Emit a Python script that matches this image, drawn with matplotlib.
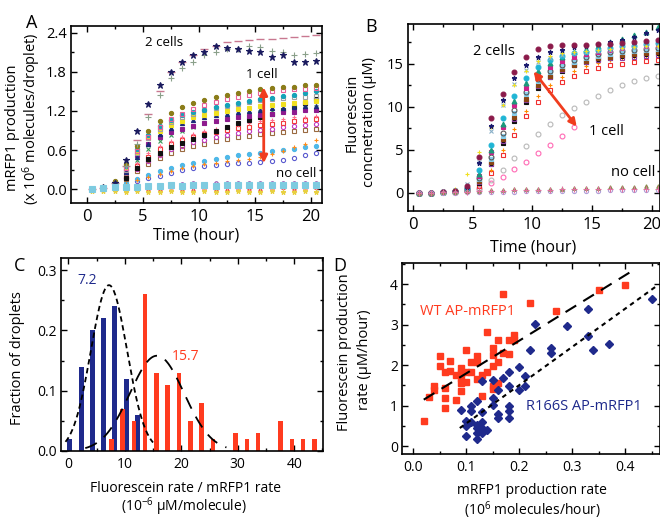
import numpy as np
import matplotlib.pyplot as plt
from matplotlib.ticker import MultipleLocator

plt.rcParams['font.family'] = ['Open Sans', 'DejaVu Sans']
plt.rcParams['mathtext.fontset'] = 'custom'
plt.rcParams['mathtext.rm'] = 'Open Sans'
plt.rcParams['mathtext.it'] = 'Open Sans:italic'
plt.rcParams['axes.linewidth'] = 1.2

# ---- time points (hour) for panels A and B
hours = [0.5, 1.5, 2.5, 3.5, 4.5, 5.5, 6.5, 7.5, 8.5, 9.5, 10.5,
         11.5, 12.5, 13.5, 14.5, 15.5, 16.5, 17.5, 18.5, 19.5, 20.5]

# ---- panel A: mRFP1 production (x10^6 molecules/droplet)
a_two_star = [0.00, 0.03, 0.10, 0.45, 0.90, 1.30, 1.60, 1.80, 1.95, 2.05, 2.10,
              2.20, 2.17, 2.15, 2.12, 2.10, 2.02, 2.05, 1.95, 1.95, 1.97]
a_two_plus = [0.00, 0.02, 0.10, 0.35, 0.70, 1.10, 1.45, 1.70, 1.85, 1.95, 2.05,
              2.10, 2.15, 2.15, 2.20, 2.18, 2.12, 2.10, 2.05, 2.07, 2.08]
a_two_dash = [0.00, 0.02, 0.10, 0.35, 0.75, 1.15, 1.50, 1.80, 1.95, 2.05, 2.15,
              2.20, 2.25, 2.27, 2.28, 2.30, 2.30, 2.32, 2.33, 2.35, 2.36]
a_olive = [0.00, 0.03, 0.12, 0.38, 0.66, 0.90, 1.05, 1.17, 1.26, 1.32, 1.37,
           1.41, 1.45, 1.48, 1.50, 1.53, 1.55, 1.56, 1.57, 1.59, 1.60]
a_pink = [0.00, 0.02, 0.10, 0.33, 0.58, 0.80, 0.95, 1.07, 1.16, 1.23, 1.29,
          1.34, 1.38, 1.42, 1.45, 1.48, 1.50, 1.52, 1.53, 1.54, 1.55]
a_teal = [0.00, 0.03, 0.11, 0.36, 0.62, 0.83, 0.97, 1.06, 1.13, 1.18, 1.22,
          1.26, 1.29, 1.32, 1.35, 1.38, 1.40, 1.43, 1.45, 1.47, 1.50]
a_gray = [0.00, 0.02, 0.09, 0.30, 0.55, 0.78, 0.93, 1.03, 1.10, 1.16, 1.21,
          1.25, 1.28, 1.31, 1.33, 1.36, 1.38, 1.40, 1.41, 1.42, 1.43]
a_yellow = [0.00, 0.03, 0.10, 0.32, 0.57, 0.78, 0.90, 0.98, 1.05, 1.10, 1.14,
            1.17, 1.20, 1.23, 1.25, 1.27, 1.29, 1.30, 1.32, 1.33, 1.35]
a_navy = [0.00, 0.02, 0.08, 0.27, 0.50, 0.70, 0.84, 0.94, 1.01, 1.06, 1.10,
          1.13, 1.16, 1.18, 1.20, 1.22, 1.24, 1.25, 1.26, 1.27, 1.28]
a_purple = [0.00, 0.02, 0.09, 0.28, 0.52, 0.70, 0.80, 0.87, 0.92, 0.97, 1.01,
            1.04, 1.07, 1.10, 1.12, 1.14, 1.16, 1.18, 1.19, 1.21, 1.22]
a_green = [0.00, 0.02, 0.08, 0.25, 0.45, 0.62, 0.74, 0.83, 0.90, 0.96, 1.01,
           1.05, 1.09, 1.12, 1.15, 1.18, 1.20, 1.22, 1.24, 1.25, 1.26]
a_black = [0.00, 0.01, 0.06, 0.18, 0.33, 0.46, 0.56, 0.64, 0.71, 0.77, 0.83,
           0.89, 0.95, 1.01, 1.06, 1.11, 1.16, 1.21, 1.26, 1.32, 1.38]
a_pinkplus = [0.00, 0.02, 0.07, 0.22, 0.40, 0.55, 0.66, 0.74, 0.80, 0.85, 0.89,
              0.93, 0.96, 0.99, 1.02, 1.04, 1.06, 1.08, 1.10, 1.11, 1.12]
a_red = [0.00, 0.02, 0.07, 0.20, 0.36, 0.50, 0.61, 0.69, 0.75, 0.80, 0.84,
         0.88, 0.91, 0.94, 0.96, 0.98, 1.00, 1.02, 1.04, 1.06, 1.08]
a_magenta = [0.00, 0.02, 0.06, 0.17, 0.31, 0.43, 0.53, 0.61, 0.67, 0.72, 0.76,
             0.80, 0.83, 0.86, 0.89, 0.91, 0.93, 0.95, 0.97, 0.99, 1.00]
a_brown = [0.00, 0.01, 0.05, 0.15, 0.28, 0.39, 0.48, 0.55, 0.61, 0.66, 0.70,
           0.74, 0.77, 0.80, 0.82, 0.84, 0.86, 0.88, 0.89, 0.91, 0.92]
a_orange = [0.00, 0.01, 0.03, 0.08, 0.14, 0.19, 0.24, 0.28, 0.32, 0.35, 0.38,
            0.41, 0.43, 0.45, 0.47, 0.50, 0.54, 0.59, 0.64, 0.70, 0.75]
a_skyblue = [0.00, 0.01, 0.03, 0.09, 0.16, 0.22, 0.28, 0.33, 0.37, 0.41, 0.44,
             0.47, 0.50, 0.52, 0.54, 0.56, 0.58, 0.60, 0.62, 0.64, 0.66]
a_blue = [0.00, 0.01, 0.03, 0.07, 0.12, 0.17, 0.21, 0.25, 0.29, 0.32, 0.35,
          0.37, 0.39, 0.40, 0.41, 0.42, 0.43, 0.45, 0.48, 0.52, 0.56]
a_none_cyan = [0.00, 0.02, 0.03, 0.04, 0.04, 0.05, 0.05, 0.06, 0.05, 0.06, 0.06,
               0.05, 0.06, 0.07, 0.06, 0.06, 0.07, 0.06, 0.07, 0.07, 0.07]
a_none_yellow = [-0.02, -0.03, -0.03, -0.04, -0.03, -0.04, -0.04, -0.03, -0.04, -0.04, -0.03,
                 -0.04, -0.04, -0.03, -0.04, -0.04, -0.03, -0.04, -0.04, -0.03, -0.04]
a_none_pink = [0.00, 0.00, 0.01, 0.00, 0.01, 0.01, 0.00, 0.01, 0.01, 0.02, 0.01,
               0.01, 0.02, 0.01, 0.02, 0.02, 0.01, 0.02, 0.02, 0.01, 0.02]
a_none_purple = [0.01, 0.02, 0.04, 0.05, 0.06, 0.06, 0.07, 0.08, 0.08, 0.09, 0.08,
                 0.09, 0.09, 0.10, 0.09, 0.10, 0.10, 0.09, 0.10, 0.10, 0.10]
a_none_red = [-0.01, 0.00, 0.00, 0.01, 0.00, 0.01, 0.01, 0.00, 0.01, 0.01, 0.02,
              0.01, 0.01, 0.02, 0.02, 0.01, 0.02, 0.03, 0.02, 0.03, 0.03]

# ---- panel B: fluorescein concentration (uM)
b_maroon = [0.0, 0.0, 0.1, 0.2, 0.8, 4.2, 8.7, 11.5, 14.0, 15.8, 16.7,
            17.0, 17.2, 17.2, 17.2, 17.3, 17.3, 17.4, 17.5, 17.6, 17.7]
b_navy = [0.0, 0.0, 0.1, 0.2, 0.6, 3.5, 7.8, 10.8, 13.3, 14.9, 15.8,
          16.3, 16.6, 16.9, 17.1, 17.3, 17.5, 17.8, 18.1, 18.5, 18.9]
b_yellow = [0.0, 0.0, 0.1, 0.5, 2.2, 4.8, 7.6, 10.2, 12.5, 14.2, 15.3,
            15.9, 16.2, 16.4, 16.5, 16.6, 16.7, 16.8, 16.9, 17.0, 17.1]
b_grayx = [0.0, 0.0, 0.1, 0.3, 1.0, 3.6, 7.2, 10.2, 12.6, 14.3, 15.2,
           15.7, 16.0, 16.2, 16.4, 16.5, 16.6, 16.8, 16.9, 17.0, 17.1]
b_cyan = [0.0, 0.0, 0.1, 0.2, 0.6, 2.6, 5.6, 8.7, 11.3, 13.3, 14.6,
          15.4, 15.9, 16.2, 16.4, 16.6, 16.8, 17.0, 17.1, 17.3, 17.4]
b_teal = [0.0, 0.0, 0.1, 0.2, 0.5, 2.2, 5.0, 8.0, 10.7, 12.8, 14.2,
          15.1, 15.8, 16.3, 16.7, 17.1, 17.5, 17.9, 18.3, 18.7, 19.2]
b_magenta = [0.0, 0.0, 0.1, 0.2, 0.5, 2.0, 4.7, 7.6, 10.2, 12.2, 13.6,
             14.6, 15.3, 15.8, 16.1, 16.4, 16.6, 16.8, 17.0, 17.1, 17.2]
b_white = [0.0, 0.0, 0.1, 0.2, 0.4, 1.7, 4.2, 7.0, 9.6, 11.7, 13.2,
           14.2, 14.9, 15.4, 15.8, 16.1, 16.3, 16.5, 16.6, 16.7, 16.8]
b_skyblue = [0.0, 0.0, 0.1, 0.2, 0.4, 1.6, 3.9, 6.6, 9.3, 11.5, 13.0,
             14.0, 14.7, 15.2, 15.6, 15.9, 16.1, 16.3, 16.5, 16.6, 16.7]
b_brown = [0.0, 0.0, 0.1, 0.1, 0.3, 1.4, 3.6, 6.2, 8.8, 10.9, 12.5,
           13.6, 14.4, 14.9, 15.3, 15.6, 15.8, 16.0, 16.1, 16.2, 16.3]
b_purple = [0.0, 0.0, 0.1, 0.1, 0.3, 1.3, 3.4, 6.0, 8.6, 10.8, 12.4,
            13.5, 14.3, 14.8, 15.2, 15.4, 15.6, 15.7, 15.8, 15.9, 16.0]
b_black = [0.0, 0.0, 0.1, 0.1, 0.3, 1.2, 3.3, 5.8, 8.3, 10.5, 12.2,
           13.4, 14.2, 14.8, 15.2, 15.5, 15.7, 15.9, 16.0, 16.1, 16.2]
b_orange = [0.0, 0.0, 0.1, 0.1, 0.3, 1.0, 2.7, 5.0, 7.4, 9.5, 11.2,
            12.5, 13.5, 14.2, 14.7, 15.1, 15.4, 15.6, 15.8, 15.9, 16.0]
b_red = [0.0, 0.0, 0.1, 0.1, 0.2, 0.8, 2.3, 4.4, 6.7, 8.9, 10.6,
         11.9, 12.9, 13.6, 14.1, 14.5, 14.8, 15.0, 15.2, 15.3, 15.4]
b_gray = [0.0, 0.0, 0.1, 0.1, 0.2, 0.6, 1.5, 2.6, 4.0, 5.4, 6.8,
          8.0, 9.0, 9.9, 10.6, 11.3, 11.9, 12.5, 13.0, 13.3, 13.6]
b_pink = [0.0, 0.0, 0.1, 0.1, 0.2, 0.5, 1.1, 1.9, 2.8, 3.6, 4.6,
          5.6, 6.6, 7.6, np.nan, np.nan, np.nan, np.nan, np.nan, np.nan, np.nan]
b_none_pink = [0.0, 0.0, 0.1, 0.1, 0.1, 0.2, 0.2, 0.2, 0.3, 0.3, 0.3,
               0.3, 0.4, 0.4, 0.4, 0.4, 0.4, 0.5, 0.5, 0.5, 0.5]
b_none_olive = [0.0, 0.0, 0.1, 0.1, 0.2, 0.2, 0.3, 0.3, 0.4, 0.4, 0.5,
                0.5, 0.5, 0.6, 0.6, 0.6, 0.7, 0.7, 0.7, 0.8, 0.8]
b_none_lav = [0.0, 0.0, 0.0, 0.0, 0.1, 0.1, 0.1, 0.1, 0.1, 0.2, 0.2,
              0.2, 0.2, 0.2, 0.2, 0.2, 0.3, 0.3, 0.3, 0.3, 0.3]

# ---- panel C: histogram of rate ratios (10^-6 uM/molecule)
r166s_bins = [0.25, 2.25, 4.25, 6.25, 8.25, 10.25, 12.25]
r166s_frac = [0.02, 0.14, 0.20, 0.22, 0.24, 0.12, 0.06]
wt_bins = [7.6, 9.6, 11.6, 13.6, 15.6, 17.6, 19.6, 21.6, 23.6, 25.6,
           27.6, 29.6, 31.6, 33.6, 35.6, 37.6, 39.6, 41.6, 43.6]
wt_frac = [0.02, 0.07, 0.05, 0.26, 0.13, 0.11, 0.13, 0.05, 0.08, 0.02,
           0.0, 0.03, 0.02, 0.03, 0.0, 0.05, 0.02, 0.02, 0.02]
# gaussian fits: amplitude, mean, sigma
r166s_fit = (0.275, 7.2, 3.2)
wt_fit = (0.158, 15.7, 4.8)

# ---- panel D: production rates
wt_x = [0.02, 0.03, 0.04, 0.04, 0.05, 0.05, 0.06, 0.06, 0.06, 0.06, 0.07, 0.07,
        0.08, 0.08, 0.09, 0.09, 0.09, 0.09, 0.09, 0.10, 0.10, 0.10, 0.11, 0.11,
        0.12, 0.12, 0.12, 0.13, 0.13, 0.14, 0.14, 0.15, 0.15, 0.15, 0.15, 0.15,
        0.16, 0.16, 0.16, 0.17, 0.17, 0.18, 0.18, 0.19, 0.19, 0.22, 0.27, 0.35, 0.40]
wt_y = [0.62, 1.21, 1.49, 1.40, 2.22, 1.97, 1.83, 1.44, 1.19, 0.94, 2.11, 1.85,
        1.77, 1.13, 1.93, 1.81, 1.68, 1.56, 1.36, 2.37, 1.82, 1.58, 2.09, 1.82,
        2.22, 2.07, 1.66, 1.77, 1.25, 2.83, 1.82, 2.42, 2.26, 1.97, 1.49, 1.41,
        2.63, 2.07, 1.56, 3.76, 2.30, 2.63, 2.28, 2.75, 2.63, 3.53, 3.34, 3.86, 3.97]
mut_x = [0.09, 0.10, 0.10, 0.10, 0.11, 0.11, 0.11, 0.12, 0.12, 0.12, 0.12, 0.12,
         0.13, 0.13, 0.13, 0.13, 0.13, 0.14, 0.15, 0.15, 0.15, 0.16, 0.16, 0.16,
         0.17, 0.18, 0.18, 0.18, 0.18, 0.18, 0.20, 0.20, 0.21, 0.21, 0.22, 0.23,
         0.26, 0.26, 0.29, 0.33, 0.33, 0.34, 0.37, 0.45]
mut_y = [0.90, 0.25, 0.63, 0.51, 1.00, 0.86, 0.59, 1.11, 0.53, 0.45, 0.34, 0.19,
         1.60, 0.84, 0.59, 0.45, 0.34, 0.41, 1.64, 1.19, 1.03, 1.38, 0.80, 0.70,
         1.68, 1.82, 1.48, 1.00, 0.86, 0.70, 1.95, 1.40, 1.74, 1.49, 2.38, 3.02,
         2.42, 2.30, 2.97, 3.39, 2.73, 2.37, 2.53, 3.64]
wt_line_x = [0.02, 0.41]
wt_line_y = [1.15, 4.30]
mut_line_x = [0.088, 0.462]
mut_line_y = [0.45, 3.98]

RED = '#ff3b1f'
NAVY = '#1f2a8c'
W, H = 660, 520

fig = plt.figure(figsize=(6.6, 5.2), dpi=100)


def box(l, t, r, b):
    return [l / W, 1 - b / H, (r - l) / W, (b - t) / H]


def ftext(x, y, s, **kw):
    fig.text(x / W, 1 - y / H, s, ha='center', va='center', **kw)


def style(ax, xmaj, xmin, ymaj, ymin, xsize=10, ysize=10):
    ax.xaxis.set_major_locator(MultipleLocator(xmaj))
    ax.xaxis.set_minor_locator(MultipleLocator(xmin))
    ax.yaxis.set_major_locator(MultipleLocator(ymaj))
    ax.yaxis.set_minor_locator(MultipleLocator(ymin))
    ax.tick_params(which='both', direction='in', top=True, right=True, width=1)
    ax.tick_params(which='major', length=4)
    ax.tick_params(which='minor', length=2.5)
    ax.tick_params(axis='x', labelsize=xsize, pad=4)
    ax.tick_params(axis='y', labelsize=ysize, pad=3)


def trace(ax, y, color, marker, filled=True, ms=3.0, mew=0.8):
    ax.plot(hours, y, ls='none', marker=marker, ms=ms,
            mfc=color if filled else 'none', mec=color, mew=mew)


# ================= A
axA = fig.add_axes(box(71, 26, 322, 203))
for y, c, m, f in [
    (a_blue, '#5a5acf', 'o', False), (a_skyblue, '#4fb8e8', 'o', True),
    (a_orange, '#ff8c1a', '+', True), (a_brown, '#9a6a40', 's', False),
    (a_magenta, '#c03ac0', 'o', False), (a_red, '#f03a3a', 's', False),
    (a_pinkplus, '#ff7090', '+', True), (a_black, '#111111', 's', True),
    (a_green, '#3a9a5a', 'x', True), (a_purple, '#8e1b8e', 's', True),
    (a_navy, '#1a2a7a', '^', True), (a_yellow, '#f0e020', 's', True),
    (a_gray, '#a0a0a0', 's', False), (a_teal, '#17a2b8', 'o', True),
    (a_pink, '#e8609a', 's', False), (a_olive, '#8b7d1a', 'o', True),
]:
    trace(axA, y, c, m, f)
trace(axA, a_two_dash, '#c87890', '_', True, ms=6, mew=1.0)
trace(axA, a_two_plus, '#8aa08a', '+', True, ms=4.5)
trace(axA, a_two_star, '#1a1a5e', '*', True, ms=5)
trace(axA, a_none_purple, '#9050b0', 'o', False, ms=2.5)
trace(axA, a_none_red, '#f04040', '^', True, ms=2.5)
trace(axA, a_none_pink, '#ff90b0', '+', True, ms=3)
trace(axA, a_none_yellow, '#e8d040', '*', True, ms=3.5)
trace(axA, a_none_cyan, '#7ecbe0', 's', True, ms=4)
axA.annotate('', xy=(15.8, 0.40), xytext=(15.8, 1.56),
             arrowprops=dict(arrowstyle='<|-|>', color='#f03c1e', lw=2,
                             mutation_scale=11, shrinkA=0, shrinkB=0))
axA.text(6.9, 2.24, '2 cells', ha='center', va='center', fontsize=9.5)
axA.text(15.6, 1.75, '1 cell', ha='center', va='center', fontsize=9.5)
axA.text(18.7, 0.245, 'no cell', ha='center', va='center', fontsize=9.5)
axA.set_xlim(-1.4, 21.0)
axA.set_ylim(-0.21, 2.5)
style(axA, 5, 2.5, 0.6, 0.3, xsize=12, ysize=10.5)
axA.yaxis.set_major_formatter(plt.FormatStrFormatter('%.1f'))

# ================= B
axB = fig.add_axes(box(408, 24, 660, 211))
for y, c, m, f in [
    (b_pink, '#ff69b4', 'o', False), (b_gray, '#b8b8b8', 'o', False),
    (b_red, '#f03030', 's', False), (b_orange, '#ff8c00', '+', True),
    (b_black, '#111111', 's', True), (b_purple, '#9040a0', 's', False),
    (b_brown, '#8b4513', 's', True), (b_skyblue, '#87ceeb', 's', True),
    (b_white, '#555555', 'o', False), (b_magenta, '#d0208a', 's', True),
    (b_teal, '#1a9a7a', '^', True), (b_cyan, '#1fb5d5', 'o', True),
    (b_grayx, '#8ab0c8', 'x', True), (b_yellow, '#f0e020', '+', True),
    (b_navy, '#1a1a6e', '*', True), (b_maroon, '#8b1a4a', 'o', True),
]:
    trace(axB, y, c, m, f, ms=3.5)
trace(axB, b_none_lav, '#b0a0d8', 'o', False, ms=3)
trace(axB, b_none_olive, '#8a8a4a', '^', True, ms=2.5)
trace(axB, b_none_pink, '#e070a0', '+', True, ms=4)
axB.annotate('', xy=(13.7, 7.7), xytext=(10.1, 14.1),
             arrowprops=dict(arrowstyle='<|-|>', color='#f03c1e', lw=2,
                             mutation_scale=11, shrinkA=0, shrinkB=0))
axB.text(6.8, 16.4, '2 cells', ha='center', va='center', fontsize=10.5)
axB.text(16.2, 7.1, '1 cell', ha='center', va='center', fontsize=10.5)
axB.text(18.4, 2.4, 'no cell', ha='center', va='center', fontsize=10.5)
axB.set_xlim(-0.4, 20.66)
axB.set_ylim(-2.1, 19.6)
style(axB, 5, 2.5, 5, 2.5, xsize=12, ysize=10.5)

# ================= C
axC = fig.add_axes(box(61, 258, 323, 451))
axC.bar(r166s_bins, r166s_frac, width=0.9, color=NAVY, zorder=2)
axC.bar(wt_bins, wt_frac, width=0.8, color=RED, zorder=2)
xb = np.linspace(-0.5, 15, 200)
A0, m0, s0 = r166s_fit
axC.plot(xb, A0 * np.exp(-(xb - m0) ** 2 / (2 * s0 ** 2)), color='black',
         lw=1.3, ls=(0, (3, 2)), zorder=3)
xr = np.linspace(3, 28, 200)
A1, m1, s1 = wt_fit
axC.plot(xr, A1 * np.exp(-(xr - m1) ** 2 / (2 * s1 ** 2)), color='black',
         lw=1.3, ls=(0, (7, 5)), zorder=3)
axC.text(3.4, 0.282, '7.2', color=NAVY, ha='center', va='center', fontsize=10)
axC.text(20.8, 0.156, '15.7', color=RED, ha='center', va='center', fontsize=10)
axC.set_xlim(-1.3, 45.1)
axC.set_ylim(0, 0.32)
style(axC, 10, 5, 0.1, 0.05, xsize=10, ysize=10)
axC.yaxis.set_major_formatter(plt.FormatStrFormatter('%.1f'))

# ================= D
axD = fig.add_axes(box(402, 263, 660, 454))
axD.plot(wt_x, wt_y, ls='none', marker='s', ms=4.2, color=RED, mec=RED)
axD.plot(mut_x, mut_y, ls='none', marker='D', ms=4.0, color=NAVY, mec=NAVY)
axD.plot(wt_line_x, wt_line_y, color='black', lw=1.5, ls=(0, (6, 4)))
axD.plot(mut_line_x, mut_line_y, color='black', lw=1.5, ls=(0, (2.2, 2)))
axD.text(0.103, 3.33, 'WT AP-mRFP1', color=RED, ha='center', va='center', fontsize=10.5)
axD.text(0.322, 0.99, 'R166S AP-mRFP1', color=NAVY, ha='center', va='center', fontsize=10.5)
axD.set_xlim(-0.021, 0.4655)
axD.set_ylim(-0.19, 4.52)
style(axD, 0.1, 0.05, 1, 0.5, xsize=10, ysize=10)
axD.xaxis.set_major_formatter(plt.FormatStrFormatter('%.1f'))

# ================= labels (one text per line)
ftext(196, 235, 'Time (hour)', fontsize=11.5)
ftext(13, 128, 'mRFP1 production', rotation=90, fontsize=10.5)
ftext(32, 119, '(x 10$^{6}$ molecules/droplet)', rotation=90, fontsize=10.5)
ftext(533, 247, 'Time (hour)', fontsize=11.5)
ftext(352, 113, 'Fluorescein', rotation=90, fontsize=10.5)
ftext(370, 122, 'concnetration (µM)', rotation=90, fontsize=10.5)
ftext(186, 488, 'Fluorescein rate / mRFP1 rate', fontsize=10)
ftext(184, 507, '(10$^{-6}$ µM/molecule)', fontsize=10)
ftext(18, 358, 'Fraction of droplets', rotation=90, fontsize=10.5)
ftext(532, 490, 'mRFP1 production rate', fontsize=10)
ftext(532, 510, '(10$^{6}$ molecules/hour)', fontsize=10)
ftext(345, 352, 'Fluorescein production', rotation=90, fontsize=10.5)
ftext(365, 360, 'rate (µM/hour)', rotation=90, fontsize=10.5)
ftext(32, 23, 'A', fontsize=13)
ftext(371, 27, 'B', fontsize=13)
ftext(20, 266, 'C', fontsize=13)
ftext(340, 266, 'D', fontsize=13)

fig.savefig('out.png', dpi=100)
